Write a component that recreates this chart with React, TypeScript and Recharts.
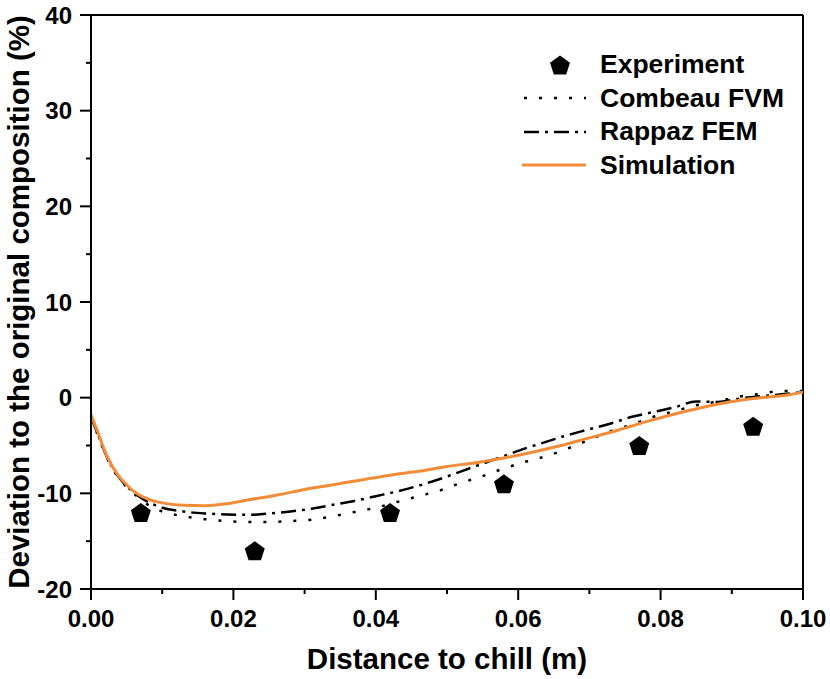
import React from "react";
import {
  ComposedChart, Line, Scatter, XAxis, YAxis, ReferenceLine,
} from "recharts";

// experiment points
const expX = [0.007, 0.023, 0.042, 0.058, 0.077, 0.093];
const expY = [-12, -16, -12, -9, -5, -3];

// simulation (orange)
const simX = [0, 0.001, 0.002, 0.003, 0.004, 0.005, 0.006, 0.008, 0.010, 0.013, 0.016, 0.019, 0.022, 0.026, 0.030, 0.034, 0.038, 0.042, 0.046, 0.050, 0.054, 0.058, 0.062, 0.066, 0.070, 0.074, 0.078, 0.082, 0.086, 0.090, 0.094, 0.098, 0.100];
const simY = [-1.8, -3.7, -5.7, -7.2, -8.3, -9.1, -9.8, -10.6, -11.0, -11.25, -11.3, -11.1, -10.7, -10.2, -9.6, -9.1, -8.6, -8.1, -7.7, -7.2, -6.8, -6.3, -5.7, -5.0, -4.2, -3.4, -2.5, -1.7, -1.0, -0.4, 0.0, 0.3, 0.6];

// Rappaz FEM (dash-dot)
const rapX = [0, 0.001, 0.002, 0.003, 0.004, 0.006, 0.008, 0.010, 0.013, 0.016, 0.019, 0.022, 0.025, 0.028, 0.031, 0.034, 0.037, 0.040, 0.043, 0.046, 0.049, 0.052, 0.055, 0.058, 0.061, 0.064, 0.067, 0.070, 0.073, 0.076, 0.079, 0.082, 0.085, 0.088, 0.091, 0.094, 0.097, 0.100];
const rapY = [-2.0, -3.9, -5.8, -7.3, -8.4, -9.9, -10.9, -11.5, -11.9, -12.1, -12.2, -12.25, -12.1, -11.9, -11.6, -11.2, -10.8, -10.3, -9.8, -9.2, -8.5, -7.7, -6.9, -6.1, -5.3, -4.6, -3.9, -3.3, -2.7, -2.0, -1.5, -1.0, -0.4, -0.45, -0.1, 0.15, 0.35, 0.6];

// Combeau FVM (dotted)
const comX = [0, 0.001, 0.002, 0.003, 0.004, 0.006, 0.008, 0.010, 0.013, 0.016, 0.019, 0.022, 0.025, 0.028, 0.031, 0.034, 0.037, 0.040, 0.043, 0.046, 0.049, 0.052, 0.055, 0.058, 0.061, 0.064, 0.067, 0.070, 0.073, 0.076, 0.079, 0.082, 0.085, 0.088, 0.091, 0.094, 0.097, 0.100];
const comY = [-2.0, -4.0, -5.9, -7.4, -8.5, -10.0, -11.2, -11.9, -12.4, -12.7, -12.9, -13.0, -13.0, -12.9, -12.75, -12.4, -11.95, -11.5, -10.9, -10.3, -9.7, -8.9, -8.2, -7.4, -6.7, -6.1, -5.3, -4.4, -3.5, -2.8, -2.0, -1.4, -0.8, -0.4, 0.1, 0.4, 0.7, 0.7];

const xTicks = [0, 0.01, 0.02, 0.03, 0.04, 0.05, 0.06, 0.07, 0.08, 0.09, 0.1];
const yTicks = [-20, -15, -10, -5, 0, 5, 10, 15, 20, 25, 30, 35, 40];

const zip = (xs: number[], ys: number[]) => xs.map((x, i) => ({ x, y: ys[i] }));
const expData = zip(expX, expY);
const simData = zip(simX, simY);
const rapData = zip(rapX, rapY);
const comData = zip(comX, comY);

const FONT = "'Liberation Sans', Arial, sans-serif";
const ORANGE = "#F28C38";

function pentagonPath(cx: number, cy: number, r: number) {
  const pts: string[] = [];
  for (let i = 0; i < 5; i++) {
    const a = -Math.PI / 2 + (i * 2 * Math.PI) / 5;
    pts.push(`${cx + r * Math.cos(a)},${cy + r * Math.sin(a)}`);
  }
  return `M${pts.join("L")}Z`;
}

const Pentagon = (props: any) => {
  const { cx, cy } = props;
  return <path d={pentagonPath(cx, cy + 1, 10.5)} fill="#000" />;
};

const XTick = (props: any) => {
  const { x, y, payload } = props;
  const major = Math.round(payload.value * 100) % 2 === 0;
  return (
    <g>
      <line x1={x} y1={y} x2={x} y2={y + (major ? 11 : 5)} stroke="#000" strokeWidth={2} />
      {major && (
        <text x={x} y={y + 29} textAnchor="middle" dominantBaseline="central"
          fontFamily={FONT} fontWeight="bold" fontSize={24} fill="#000">
          {payload.value.toFixed(2)}
        </text>
      )}
    </g>
  );
};

const YTick = (props: any) => {
  const { x, y, payload } = props;
  const major = payload.value % 10 === 0;
  return (
    <g>
      <line x1={x} y1={y} x2={x - (major ? 11 : 5)} y2={y} stroke="#000" strokeWidth={2} />
      {major && (
        <text x={x - 19} y={y} textAnchor="end" dominantBaseline="central"
          fontFamily={FONT} fontWeight="bold" fontSize={24} fill="#000">
          {payload.value}
        </text>
      )}
    </g>
  );
};

const legendItems = [
  { name: "Experiment", kind: "marker" },
  { name: "Combeau FVM", kind: "dot" },
  { name: "Rappaz FEM", kind: "dashdot" },
  { name: "Simulation", kind: "solid" },
];

const LegendBox = () => (
  <div style={{ position: "absolute", left: 520, top: 48, fontFamily: FONT, fontWeight: "bold", fontSize: 26.5, color: "#000" }}>
    {legendItems.map((it) => (
      <div key={it.name} style={{ display: "flex", alignItems: "center", height: 33.5 }}>
        <svg width={66} height={34} style={{ marginRight: 14 }}>
          {it.kind === "marker" && <path d={pentagonPath(40, 18, 10.5)} fill="#000" />}
          {it.kind === "dot" && <line x1={4} y1={17} x2={66} y2={17} stroke="#000" strokeWidth={2.5} strokeDasharray="3 12" />}
          {it.kind === "dashdot" && <line x1={4} y1={17} x2={66} y2={17} stroke="#000" strokeWidth={2.5} strokeDasharray="15 6 3 6" />}
          {it.kind === "solid" && <line x1={2} y1={17} x2={66} y2={17} stroke={ORANGE} strokeWidth={3} />}
        </svg>
        <span>{it.name}</span>
      </div>
    ))}
  </div>
);

export default function App() {
  return (
    <div style={{ position: "absolute", left: 0, top: 0, width: 830, height: 679, background: "#fff" }}>
      <ComposedChart width={830} height={679} margin={{ top: 15, right: 27, bottom: 0, left: 0 }}>
        <XAxis
          type="number" dataKey="x" domain={[0, 0.1]} ticks={xTicks}
          allowDataOverflow height={90} tickSize={0} tickMargin={0} tickLine={false}
          axisLine={{ stroke: "#000", strokeWidth: 2 }} tick={<XTick />} interval={0}
          label={{
            content: () => (
              <text x={447} y={658} textAnchor="middle" dominantBaseline="central"
                fontFamily={FONT} fontWeight="bold" fontSize={29.5} fill="#000">
                Distance to chill (m)
              </text>
            ),
          }}
        />
        <YAxis
          type="number" domain={[-20, 40]} ticks={yTicks} allowDataOverflow
          width={91} tickSize={0} tickMargin={0} tickLine={false}
          axisLine={{ stroke: "#000", strokeWidth: 2 }} tick={<YTick />} interval={0}
          label={{
            content: () => (
              <text x={18} y={302} transform="rotate(-90 18 302)" textAnchor="middle"
                dominantBaseline="central" fontFamily={FONT} fontWeight="bold" fontSize={29.5} fill="#000">
                Deviation to the original composition (%)
              </text>
            ),
          }}
        />
        <ReferenceLine y={40} stroke="#000" strokeWidth={2} />
        <ReferenceLine x={0.1} stroke="#000" strokeWidth={2} />
        <Line data={comData} dataKey="y" type="monotone" stroke="#000" strokeWidth={2.5}
          strokeDasharray="3 12" dot={false} activeDot={false} isAnimationActive={false} />
        <Line data={rapData} dataKey="y" type="monotone" stroke="#000" strokeWidth={2.5}
          strokeDasharray="15 6 3 6" dot={false} activeDot={false} isAnimationActive={false} />
        <Line data={simData} dataKey="y" type="monotone" stroke={ORANGE} strokeWidth={3}
          dot={false} activeDot={false} isAnimationActive={false} />
        <Scatter data={expData} dataKey="y" shape={<Pentagon />} isAnimationActive={false} />
      </ComposedChart>
      <LegendBox />
    </div>
  );
}
